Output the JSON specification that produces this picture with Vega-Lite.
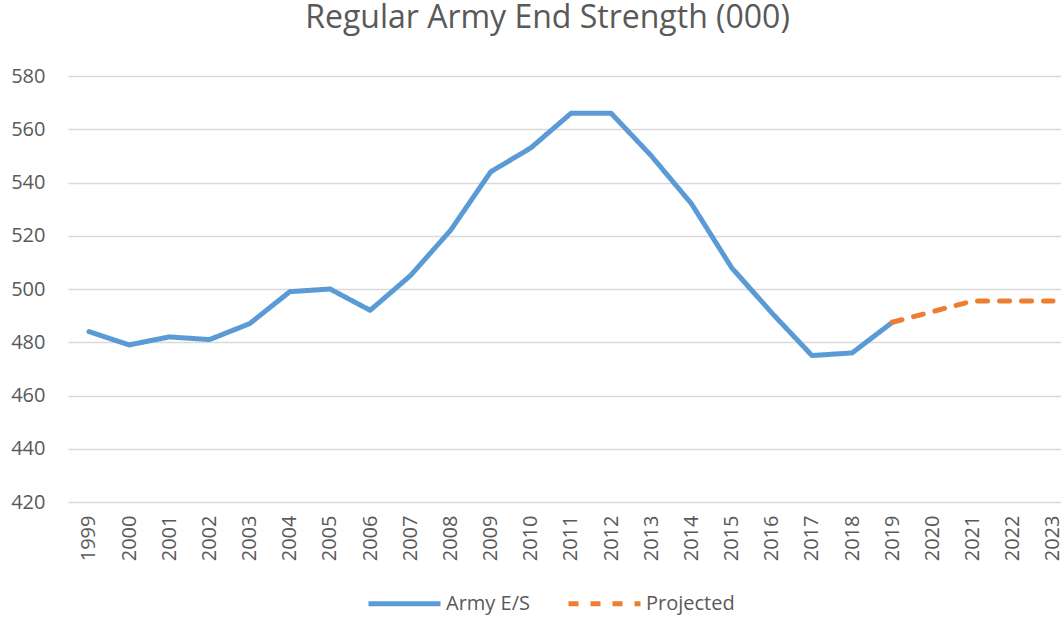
{
  "$schema": "https://vega.github.io/schema/vega-lite/v6.json",
  "autosize": {"type": "none"},
  "padding": {"left": 68, "top": 76, "right": 0, "bottom": 116},
  "width": 993,
  "height": 426,
  "background": "white",
  "title": {
    "text": "Regular Army End Strength (000)",
    "font": "Open Sans",
    "fontSize": 32,
    "fontWeight": "normal",
    "color": "#595959",
    "anchor": "middle",
    "baseline": "bottom",
    "offset": 2,
    "dy": 3,
    "dx": -17
  },
  "config": {
    "view": {"stroke": null},
    "font": "Open Sans"
  },
  "data": {
    "values": [
      {"year": "1999", "value": 484, "series": "Army E/S"},
      {"year": "2000", "value": 479, "series": "Army E/S"},
      {"year": "2001", "value": 482, "series": "Army E/S"},
      {"year": "2002", "value": 481, "series": "Army E/S"},
      {"year": "2003", "value": 487, "series": "Army E/S"},
      {"year": "2004", "value": 499, "series": "Army E/S"},
      {"year": "2005", "value": 500, "series": "Army E/S"},
      {"year": "2006", "value": 492, "series": "Army E/S"},
      {"year": "2007", "value": 505, "series": "Army E/S"},
      {"year": "2008", "value": 522, "series": "Army E/S"},
      {"year": "2009", "value": 544, "series": "Army E/S"},
      {"year": "2010", "value": 553, "series": "Army E/S"},
      {"year": "2011", "value": 566, "series": "Army E/S"},
      {"year": "2012", "value": 566, "series": "Army E/S"},
      {"year": "2013", "value": 550, "series": "Army E/S"},
      {"year": "2014", "value": 532, "series": "Army E/S"},
      {"year": "2015", "value": 508, "series": "Army E/S"},
      {"year": "2016", "value": 491, "series": "Army E/S"},
      {"year": "2017", "value": 475, "series": "Army E/S"},
      {"year": "2018", "value": 476, "series": "Army E/S"},
      {"year": "2019", "value": 487.5, "series": "Army E/S"},
      {"year": "2019", "value": 487.5, "series": "Projected"},
      {"year": "2020", "value": 491.5, "series": "Projected"},
      {"year": "2021", "value": 495.5, "series": "Projected"},
      {"year": "2022", "value": 495.5, "series": "Projected"},
      {"year": "2023", "value": 495.5, "series": "Projected"}
    ]
  },
  "mark": {"type": "line", "strokeWidth": 5, "strokeCap": "round", "strokeJoin": "round"},
  "encoding": {
    "x": {
      "field": "year",
      "type": "ordinal",
      "scale": {"type": "point", "padding": 0.361, "align": 0.724},
      "axis": {
        "title": null,
        "labelAngle": -90,
        "labelFontSize": 20,
        "labelColor": "#595959",
        "labelFont": "Open Sans",
        "labelPadding": 13,
        "ticks": false,
        "tickSize": 0,
        "domain": false,
        "grid": false
      }
    },
    "y": {
      "field": "value",
      "type": "quantitative",
      "scale": {"domain": [420, 580], "nice": false, "zero": false},
      "axis": {
        "title": null,
        "values": [420, 440, 460, 480, 500, 520, 540, 560, 580],
        "labelFontSize": 20,
        "labelColor": "#595959",
        "labelFont": "Open Sans",
        "labelPadding": 23,
        "ticks": false,
        "tickSize": 0,
        "domain": false,
        "grid": true,
        "gridColor": "#D9D9D9",
        "gridWidth": 1.5
      }
    },
    "color": {
      "field": "series",
      "type": "nominal",
      "scale": {"domain": ["Army E/S", "Projected"], "range": ["#5B9BD5", "#ED7D31"]},
      "legend": {
        "title": null,
        "orient": "none",
        "direction": "horizontal",
        "legendX": 298,
        "legendY": 489,
        "padding": 0,
        "symbolType": "stroke",
        "symbolSize": 5184,
        "symbolStrokeWidth": 5,
        "labelFontSize": 20,
        "labelColor": "#595959",
        "labelFont": "Open Sans",
        "labelOffset": 3,
        "columnPadding": 28
      }
    },
    "strokeDash": {
      "field": "series",
      "type": "nominal",
      "scale": {"domain": ["Army E/S", "Projected"], "range": [[1, 0], [10, 12]]},
      "legend": {
        "title": null,
        "orient": "none",
        "direction": "horizontal",
        "legendX": 298,
        "legendY": 489,
        "padding": 0,
        "symbolType": "stroke",
        "symbolSize": 5184,
        "symbolStrokeWidth": 5,
        "labelFontSize": 20,
        "labelColor": "#595959",
        "labelFont": "Open Sans",
        "labelOffset": 3,
        "columnPadding": 28
      }
    }
  }
}
